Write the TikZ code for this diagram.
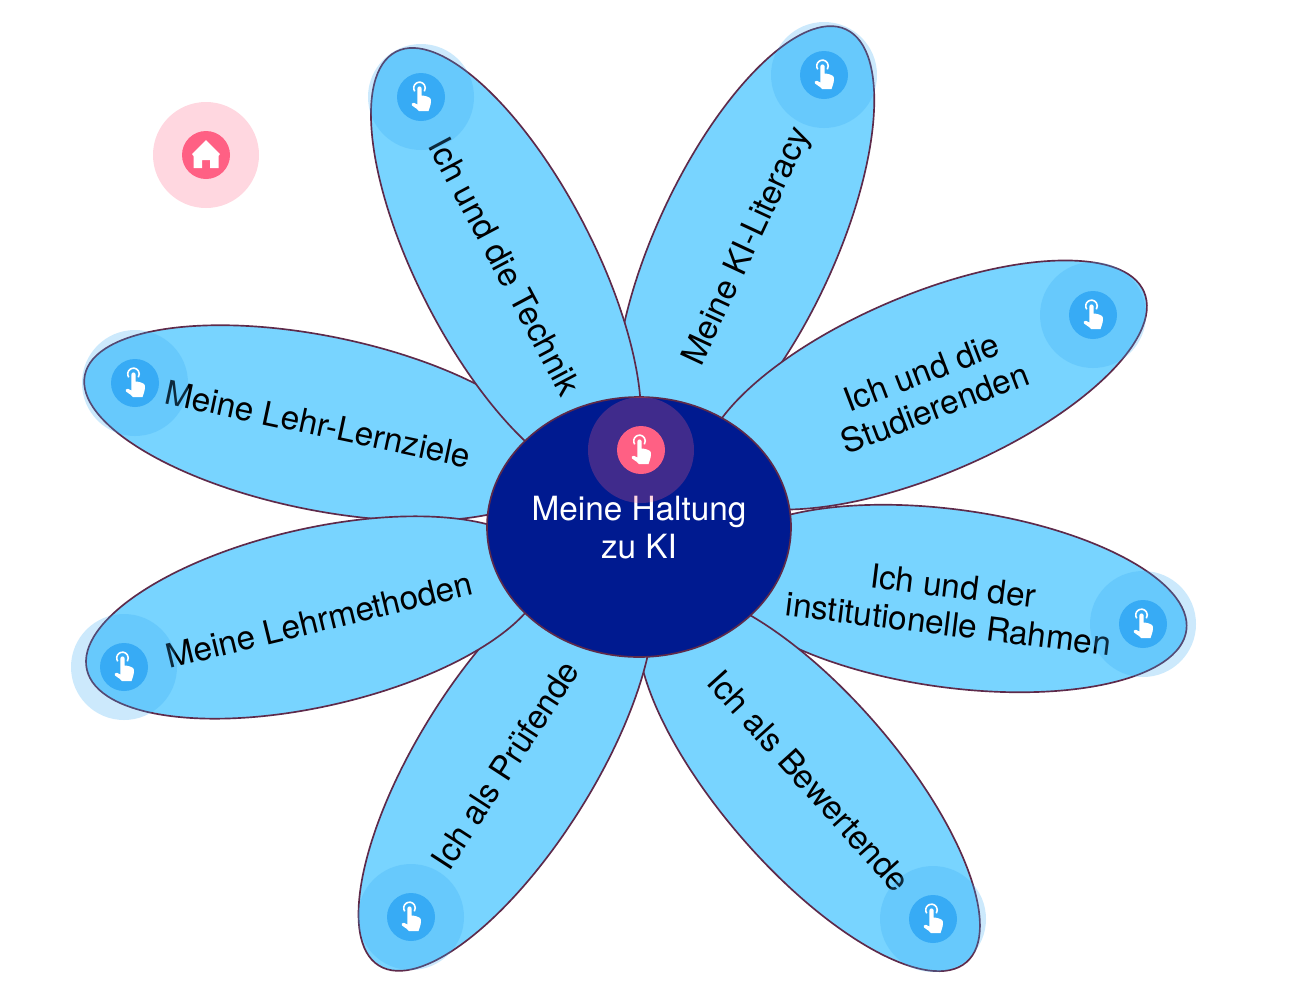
\documentclass[tikz,border=0pt]{standalone}
\usepackage{fontspec}
\setmainfont{TeX Gyre Heros}
\usetikzlibrary{shapes.geometric}
\definecolor{petalblue}{HTML}{78D4FF}
\definecolor{edgemaroon}{HTML}{5E2A4A}
\definecolor{corenavy}{HTML}{001A90}
\definecolor{tapblue}{HTML}{37ABF5}
\definecolor{tapred}{HTML}{FF6084}
\tikzset{
  petal/.style={ellipse,draw=edgemaroon,fill=petalblue,line width=1.25pt,inner sep=0pt,outer sep=0pt},
  label text/.style={align=center,inner sep=0pt,text=black,font=\fontsize{25}{28.5}\selectfont},
  halo/.style={circle,fill=#1,fill opacity=0.25,minimum size=79.5pt,inner sep=0pt},
  disc/.style={circle,fill=#1,minimum size=36pt,inner sep=0pt},
}
\newcommand{\petalshape}[6]{% name, cx, cy, angle, a, b (px)
  \node[petal,rotate=#4,minimum width=#5*1.5pt,minimum height=#6*1.5pt] (#1) at (#2,#3) {};}
\newcommand{\handglyph}{%
  \fill[white] (-3.6,-8.5) arc[start angle=180,end angle=360,radius=2.1] -- (0.6,-1.5)
    .. controls (3,-1.5) and (7,-0.5) .. (9,1) .. controls (10.5,2) and (10,7) .. (9,9.5)
    -- (7.5,14) -- (-2,14) -- (-4,12) -- (-9,8.5) .. controls (-10,7) and (-9,5.5) .. (-7,5.8)
    -- (-3.6,7.5) -- cycle;
  \draw[white,line width=1.2pt] (-6.25,-5.7) arc[start angle=145,end angle=395,radius=5.8];}
\newcommand{\tapicon}[4]{% name, x, y, colour
  \node[halo=#4] (#1h) at (#2,#3) {};
  \node[disc=#4] (#1d) at (#2,#3) {};
  \begin{scope}[shift={(#2,#3)}]\handglyph\end{scope}}
\begin{document}
\begin{tikzpicture}[x=0.75pt,y=-0.75pt]
\useasboundingbox (0,0) rectangle (1292,997);
\fill[white] (0,0) rectangle (1292,997);
\petalshape{pTR}{745}{246}{65}{239}{89}
\petalshape{pLU}{320}{423}{-11.5}{240}{87}
\petalshape{pTL}{506}{265}{-62.7}{240}{88}
\petalshape{pRU}{925}{385}{23}{238}{90}
\petalshape{pRD}{951.5}{598.5}{-7.7}{237}{89}
\petalshape{pBR}{809}{781}{-49}{240}{88}
\petalshape{pBL}{506}{762}{58}{240}{88}
\petalshape{pLD}{315}{617.5}{12.85}{234}{89}
\node[ellipse,draw=edgemaroon,fill=corenavy,line width=1.25pt,inner sep=0pt,minimum width=228pt,minimum height=195pt] (core) at (639,527) {};
\node[label text] (tTL) at (505,266) [rotate=-62] {Ich und die Technik};
\node[label text] (tTR) at (748,247) [rotate=65] {Meine KI-Literacy};
\node[label text] (tRU) at (928,390) [rotate=21] {Ich und die\\Studierenden};
\node[label text] (tRD) at (951,605) [rotate=-7] {Ich und der\\institutionelle Rahmen};
\node[label text] (tBR) at (809,781) [rotate=-48] {Ich als Bewertende};
\node[label text] (tBL) at (505,765) [rotate=57] {Ich als Prüfende};
\node[label text] (tLD) at (319,620) [rotate=13.7] {Meine Lehrmethoden};
\node[label text] (tLU) at (318,424) [rotate=-12] {Meine Lehr-Lernziele};
\node[label text,text=white] (tCore) at (639,528) {Meine Haltung\\zu KI};
\tapicon{iTL}{421}{97}{tapblue}
\tapicon{iTR}{824}{75}{tapblue}
\tapicon{iRU}{1093}{315}{tapblue}
\tapicon{iRD}{1143}{624}{tapblue}
\tapicon{iBR}{933}{919}{tapblue}
\tapicon{iBL}{411}{917}{tapblue}
\tapicon{iLD}{124}{667}{tapblue}
\tapicon{iLU}{135}{383}{tapblue}
\tapicon{iCore}{641}{450}{tapred}
\node[halo=tapred] (homeh) at (206,155) {};
\node[disc=tapred] (homed) at (206,155) {};
\fill[white] (206,140) -- (220,154) -- (218.5,156) -- (218.5,168) -- (210,168) -- (210,160) -- (202,160) -- (202,168) -- (193.5,168) -- (193.5,156) -- (192,154) -- cycle;
\end{tikzpicture}
\end{document}
